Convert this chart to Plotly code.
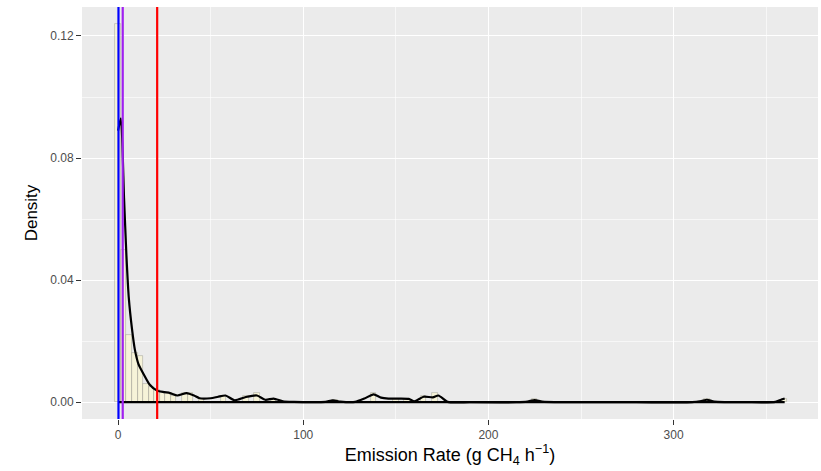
import plotly.graph_objects as go

# Histogram bins (centre, density), bin width 3 g/h
bin_centers = [0, 3, 6, 9, 12, 15, 18, 21, 24, 27, 30, 36, 39, 45, 57, 69, 75,
               84, 117, 138, 150, 156, 165, 171, 225, 318, 360]
bin_density = [0.124, 0.05, 0.022, 0.016, 0.015, 0.006, 0.005, 0.004, 0.003,
               0.003, 0.002, 0.003, 0.003, 0.001, 0.002, 0.002, 0.003, 0.001,
               0.0008, 0.003, 0.001, 0.001, 0.002, 0.003, 0.001, 0.001, 0.001]
bin_width = 3

# Kernel density estimate of the emission rates
kde_x = [0, 1.5, 3.2, 4.5, 5.8, 7.5, 9, 11, 14.4, 17, 21, 25, 28, 32, 37, 41,
         44, 50, 54, 58, 63, 69, 75, 79.5, 84, 89, 95, 105, 112, 116, 120, 128,
         133, 138, 142, 146, 152, 157, 160, 165, 170, 173, 178, 190, 215, 221,
         225, 229, 240, 280, 310, 315, 318, 322, 340, 355, 358, 360]
kde_y = [0.089, 0.093, 0.067, 0.048, 0.034, 0.024, 0.0174, 0.0125, 0.0085,
         0.0058, 0.0038, 0.0033, 0.003, 0.0022, 0.003, 0.0022, 0.0013, 0.0013,
         0.0018, 0.0022, 0.0006, 0.0017, 0.0022, 0.0008, 0.0012, 0.0003,
         0.0001, 0.0, 0.0001, 0.0006, 0.0002, 0.0001, 0.0012, 0.0026, 0.0015,
         0.0012, 0.0012, 0.0011, 0.0003, 0.0018, 0.0016, 0.0022, 0.0001, 0.0,
         0.0, 0.0002, 0.0007, 0.0002, 0.0, 0.0, 0.0, 0.0004, 0.0008, 0.0002,
         0.0, 0.0001, 0.0008, 0.0012]

# Summary statistics marked as vertical lines
stat_values = [0.2, 2.5, 21.1]
stat_colors = ["#0000FF", "#A020F0", "#FF0000"]

x_ticks = [0, 100, 200, 300]
y_ticks = [0.00, 0.04, 0.08, 0.12]
y_tick_text = ["0.00", "0.04", "0.08", "0.12"]

fig = go.Figure()

fig.add_trace(go.Bar(
    x=bin_centers, y=bin_density, width=bin_width,
    marker=dict(color="rgba(255,250,200,0.55)",
                line=dict(color="rgba(150,150,140,0.55)", width=0.8)),
    showlegend=False, hoverinfo="skip",
))

# density outline: curve plus its baseline
fig.add_trace(go.Scatter(
    x=[kde_x[0], kde_x[-1]], y=[0, 0], mode="lines",
    line=dict(color="black", width=2.2), showlegend=False, hoverinfo="skip",
))
fig.add_trace(go.Scatter(
    x=kde_x, y=kde_y, mode="lines",
    line=dict(color="black", width=2.2, shape="spline", smoothing=0.6),
    showlegend=False,
))

for v, c in zip(stat_values, stat_colors):
    fig.add_vline(x=v, line=dict(color=c, width=2.2), layer="above")

fig.update_layout(
    width=821, height=471,
    margin=dict(l=82, r=3, t=7, b=52),
    paper_bgcolor="white", plot_bgcolor="#EBEBEB",
    bargap=0,
    font=dict(family="Liberation Sans, Arial, sans-serif", color="black"),
    xaxis=dict(
        range=[-19.5, 378], tickvals=x_ticks, ticktext=[str(t) for t in x_ticks],
        showgrid=True, gridcolor="white", gridwidth=1.3,
        minor=dict(tickvals=[50, 150, 250, 350], showgrid=True,
                   gridcolor="rgba(255,255,255,0.6)", gridwidth=0.6),
        ticks="outside", ticklen=5, tickcolor="#333333", tickwidth=1,
        tickfont=dict(size=12, color="#4D4D4D"),
        zeroline=False, showline=False,
        title=dict(text="Emission Rate (g CH<sub>4</sub> h<sup>−1</sup>)",
                   font=dict(size=18, color="black"), standoff=6),
    ),
    yaxis=dict(
        range=[-0.0055, 0.1295], tickvals=y_ticks, ticktext=y_tick_text,
        showgrid=True, gridcolor="white", gridwidth=1.3,
        minor=dict(tickvals=[0.02, 0.06, 0.10], showgrid=True,
                   gridcolor="rgba(255,255,255,0.6)", gridwidth=0.6),
        ticks="outside", ticklen=5, tickcolor="#333333", tickwidth=1,
        tickfont=dict(size=12, color="#4D4D4D"),
        zeroline=False, showline=False,
        title=dict(text="Density", font=dict(size=17, color="black"),
                   standoff=8),
    ),
)

fig.write_html("out.html")
